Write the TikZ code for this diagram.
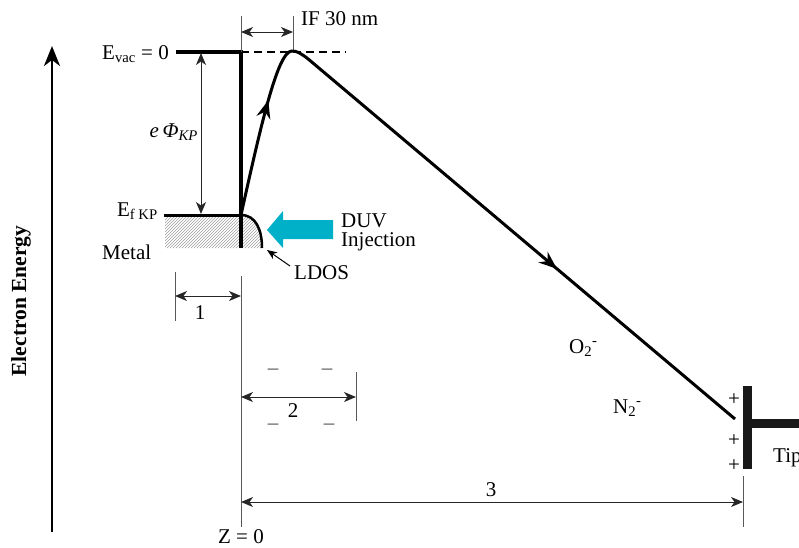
\documentclass[tikz,border=0pt]{standalone}
\usepackage{fontspec}
\setmainfont{Liberation Serif}
\usetikzlibrary{arrows.meta,patterns,decorations.markings}
\definecolor{duv}{RGB}{0,176,200}
\tikzset{eltip/.tip={Stealth[length=18pt,width=14pt,inset=6pt]}}
\begin{document}
\begin{tikzpicture}[x=1pt,y=-1pt,
  lbl/.style={font=\fontsize{21}{24}\selectfont, inner sep=0pt},
  thinln/.style={line width=0.8pt, black!65},
  dimarr/.style={line width=1pt, black!85, {Stealth[length=12pt,width=10pt,inset=3.5pt]}-{Stealth[length=12pt,width=10pt,inset=3.5pt]}},
  band/.style={line width=4pt},
  elpath/.style={line width=3pt, line join=round},
  tipbar/.style={fill=black!90}
]
\useasboundingbox (0,0) rectangle (799,547);

% energy axis
\coordinate (axb) at (52,532);
\coordinate (axt) at (52,46);
\draw[line width=2.6pt, -{Stealth[length=20pt,width=16pt,inset=6pt]}] (axb) -- (axt);
\node[lbl, font=\fontsize{21.5}{24}\selectfont\bfseries, rotate=90] (ee) at (21,301) {Electron Energy};

% metal / hatch
\coordinate (efL) at (164,215);
\coordinate (efR) at (241,215);
\coordinate (ldosE) at (262,248);
\fill[pattern=north east lines, pattern color=gray!75] (165,216) -- (241,216) .. controls (256,216) and (262,230) .. (262,248) -- (165,248) -- cycle;

% vacuum level and barrier
\coordinate (vacL) at (176,52);
\coordinate (bartop) at (241,52);
\coordinate (barbot) at (241,248);
\coordinate (dashend) at (346,52);
\draw[dash pattern=on 8pt off 5pt, line width=1.3pt] (bartop) -- (dashend);
\draw[band, line join=miter] (vacL) -- (bartop) -- (barbot);
\node[lbl, anchor=base east] (evac) at (169,59) {E\textsubscript{vac} = 0};

% Fermi level
\draw[line width=3pt] (efL) -- (efR);
\node[lbl, anchor=base east] (ef) at (158,216) {E\textsubscript{f KP}};
\draw[line width=2.5pt] (efR) .. controls (256,215) and (262,230) .. (ldosE);
\node[lbl, anchor=base west] (metal) at (102,259) {Metal};

% work function
\coordinate (phit) at (201,53);
\coordinate (phib) at (201,214);
\draw[dimarr] (phit) -- (phib);
\node[lbl, anchor=base east] (phi) at (198,137) {\textit{e}\,\textit{Φ}\textsubscript{\textit{KP}}};

% IF dimension
\coordinate (if1t) at (241,16);
\coordinate (if2t) at (293,16);
\coordinate (if2b) at (293,52);
\coordinate (ifa) at (241,32);
\coordinate (ifb) at (293,32);
\draw[thinln] (if1t) -- (bartop);
\draw[thinln] (if2t) -- (if2b);
\draw[dimarr] (ifa) -- (ifb);
\node[lbl, anchor=base west] (iflbl) at (301,25) {IF 30 nm};

% electron path
\coordinate (peak) at (292,51);
\coordinate (pk2) at (307,58);
\coordinate (pend) at (735,419);
\draw[elpath, postaction={decorate}, decoration={markings,
   mark=at position 118pt with {\arrow{eltip}},
   mark=at position 518pt with {\arrow{eltip}}}]
  (efR) .. controls (262,120) and (278,51) .. (peak) .. controls (297,51) and (300,53) .. (pk2) -- (pend);

% DUV injection
\coordinate (duvtip) at (267,230);
\fill[duv] (duvtip) -- (283,211) -- (283,220) -- (333,220) -- (333,239) -- (283,239) -- (283,248) -- cycle;
\node[lbl, anchor=base west, align=left, font=\fontsize{21}{19}\selectfont] (duv) at (341,246) {DUV\\Injection};

% LDOS label
\node[lbl, anchor=base west] (ldos) at (294,279) {LDOS};
\coordinate (ldosp) at (290,266);
\coordinate (ldosq) at (267,250);
\draw[line width=1pt, -{Stealth[length=10pt,width=8pt,inset=3pt]}] (ldosp) -- (ldosq);

% Z = 0 line
\coordinate (z0t) at (241,276);
\coordinate (z0b) at (241,527);
\draw[thinln] (z0t) -- (z0b);
\node[lbl, anchor=base] (z0) at (241,543) {Z = 0};

% dimension 1
\coordinate (d1t) at (175,272);
\coordinate (d1b) at (175,321);
\coordinate (d1a) at (175,296);
\coordinate (d1b2) at (241,296);
\draw[thinln] (d1t) -- (d1b);
\draw[dimarr] (d1a) -- (d1b2);
\node[lbl, anchor=base] (l1) at (200,319) {1};

% dimension 2
\coordinate (d2t) at (356,372);
\coordinate (d2b) at (356,421);
\coordinate (d2a) at (241,397);
\coordinate (d2c) at (356,397);
\draw[thinln] (d2t) -- (d2b);
\draw[dimarr] (d2a) -- (d2c);
\node[lbl, anchor=base] (l2) at (293,417) {2};
\node[lbl, anchor=base, black!70] (m1) at (273,374) {–};
\node[lbl, anchor=base, black!70] (m2) at (327,374) {–};
\node[lbl, anchor=base, black!70] (m3) at (273,429) {–};
\node[lbl, anchor=base, black!70] (m4) at (329,429) {–};

% dimension 3
\coordinate (d3t) at (743,476);
\coordinate (d3b) at (743,527);
\coordinate (d3a) at (241,502);
\coordinate (d3c) at (743,502);
\draw[thinln] (d3t) -- (d3b);
\draw[dimarr] (d3a) -- (d3c);
\node[lbl, anchor=base] (l3) at (491,496) {3};

% ions
\node[lbl, anchor=base west] (o2) at (569,353) {O\textsubscript{2}\textsuperscript{-}};
\node[lbl, anchor=base west] (n2) at (613,413) {N\textsubscript{2}\textsuperscript{-}};

% tip
\fill[tipbar] (743,386) rectangle (752,469);
\fill[tipbar] (752,419) rectangle (800,428);
\node[lbl] (p1) at (734,400) {+};
\node[lbl] (p2) at (734,441) {+};
\node[lbl] (p3) at (734,466) {+};
\node[lbl, anchor=base west] (tip) at (773,462) {Tip};
\end{tikzpicture}
\end{document}
